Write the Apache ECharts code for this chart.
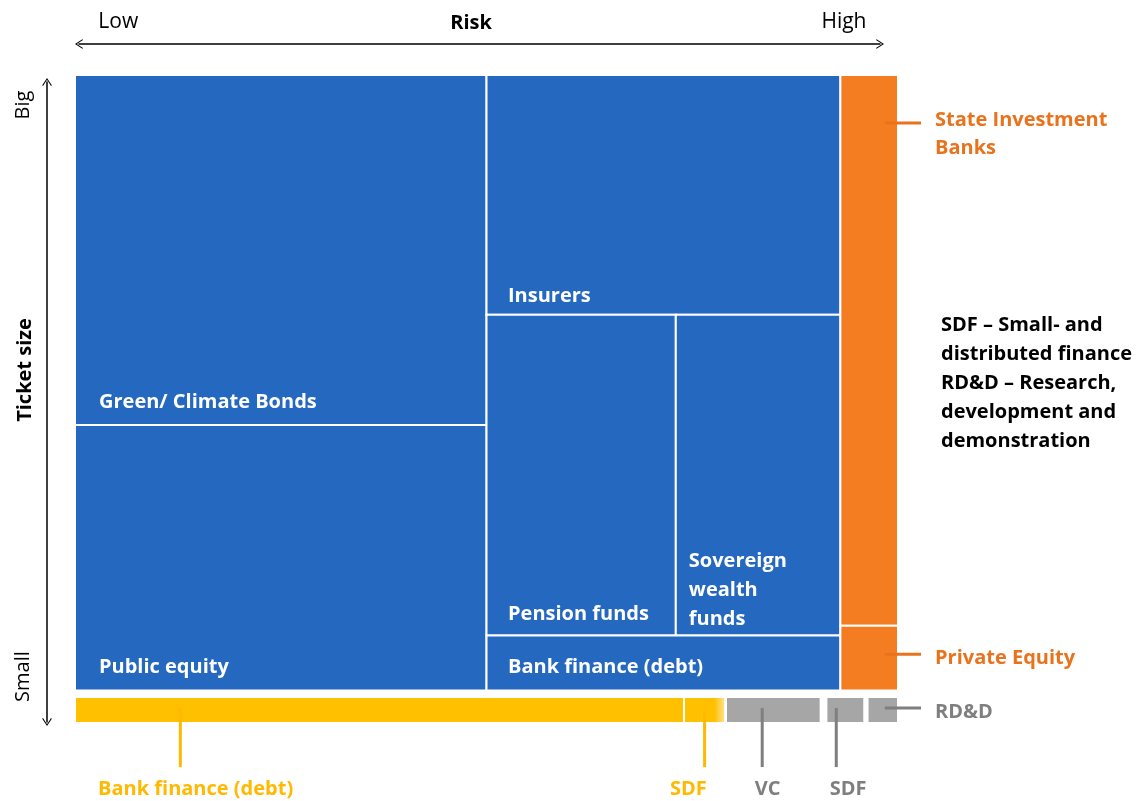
<!DOCTYPE html>
<html>
<head>
    <meta charset="utf-8">
    <title>Risk and ticket size</title>
    <script src="https://cdn.jsdelivr.net/npm/echarts@6/dist/echarts.min.js"></script>
    <style>
        html, body { margin: 0; background: #fff; }
        #chart1 { width: 1140px; height: 801px; }
    </style>
</head>
<body>
<div id="chart1"></div>
<script>
    // boxes, risk runs 0 (low) .. 100 (high), ticket size 0 (small) .. 100 (big)
    var boxNames = ['Green/ Climate Bonds', 'Public equity', 'Insurers', 'Pension funds', 'Sovereign\nwealth\nfunds',
        'Bank finance (debt)', 'State Investment Banks', 'Private Equity', 'Bank finance (debt)', 'SDF', 'VC', 'SDF', 'RD&D'];
    var boxGroups = ['inst', 'inst', 'inst', 'inst', 'inst', 'inst', 'state', 'state', 'bank', 'sdf', 'grey', 'grey', 'grey'];
    var riskFrom = [0, 0, 50, 50, 73, 50, 93, 93, 0, 74, 79.1, 91.3, 96.3];
    var riskTo = [50, 50, 93, 73, 93, 93, 100, 100, 74, 79, 90.6, 95.9, 100];
    var sizeFrom = [46, 5, 63, 13.5, 13.5, 5, 15, 5, 0, 0, 0, 0, 0];
    var sizeTo = [100, 46, 100, 63, 63, 13.5, 100, 15, 4, 4, 4, 4, 4];

    // call-outs for the boxes that carry their name outside
    var calloutNames = ['Bank finance (debt)', 'SDF', 'VC', 'SDF', 'State Investment\nBanks', 'Private Equity', 'RD&D'];
    var calloutGroups = ['bank', 'bank', 'grey', 'grey', 'state', 'state', 'grey'];
    var calloutFromX = [12.8, 76.5, 83.5, 92.5, 98.4, 98.4, 98.4];
    var calloutFromY = [2.3, 1.7, 2.3, 2.3, 92.6, 10.6, 2.3];
    var calloutToX = [12.8, 76.5, 83.5, 92.5, 102.8, 102.8, 102.8];
    var calloutToY = [-6.8, -6.8, -6.8, -6.8, 92.6, 10.6, 2.3];
    var calloutTextX = [2.8, 72.3, 82.6, 91.7, 104.5, 104.5, 104.5];
    var calloutTextY = [-10.2, -10.2, -10.2, -10.2, 90.9, 10.0, 1.7];

    // axis ticks
    var riskTicks = [4.9, 95.5];
    var riskTickLabels = ['Low', 'High'];
    var sizeTicks = [7.1, 96.4];
    var sizeTickLabels = ['Small', 'Big'];

    var noteText = 'SDF – Small- and\ndistributed finance\nRD&D – Research,\ndevelopment and\ndemonstration';

    var FONT = '"Open Sans", Lato, sans-serif';
    var boxFill = {
        inst: '#2568BF',
        state: '#F47D21',
        bank: '#FFC000',
        sdf: {
            type: 'linear', x: 0, y: 0, x2: 1, y2: 0,
            colorStops: [{offset: 0, color: '#FFC000'}, {offset: 0.72, color: '#FFC000'}, {offset: 1, color: '#FFE7A0'}]
        },
        grey: '#A6A6A6'
    };
    var textColor = {bank: '#FFB900', state: '#E9721C', grey: '#7F7F7F'};
    // label padding inside the blue boxes: [from left, from bottom]
    var innerPad = [[24, 8.5], [24, 9], [21.5, 4.3], [21.5, 7], [13, 2], [21.5, 9]];

    var boxData = boxNames.map(function (n, i) {
        return [riskFrom[i], riskTo[i], sizeFrom[i], sizeTo[i]];
    });
    var calloutData = calloutNames.map(function (n, i) {
        return [calloutFromX[i], calloutFromY[i], calloutToX[i], calloutToY[i], calloutTextX[i], calloutTextY[i]];
    });

    var chevron = 'path://M0,9.2 L6,0 L12,9.2 L11,10 L6,2.2 L1,10 Z';

    var myChart1 = echarts.init(document.getElementById('chart1'));
    myChart1.setOption({
        animation: false,
        title: {
            text: noteText,
            left: 941,
            top: 311,
            padding: 0,
            textStyle: {fontFamily: FONT, fontSize: 20, fontWeight: 'bold', color: '#000', lineHeight: 29}
        },
        grid: [
            {left: 75, top: 75, width: 823, height: 648, outerBoundsMode: 'none'},
            {left: 79, top: 82, width: 801, height: 640, outerBoundsMode: 'none'}
        ],
        xAxis: [
            {gridIndex: 0, type: 'value', min: 0, max: 100, show: false},
            {
                gridIndex: 1, type: 'value', min: 0, max: 100, position: 'top', offset: 38,
                axisLine: {show: true, onZero: false, symbol: [chevron, chevron], symbolSize: [14, 8], lineStyle: {color: '#000', width: 1.5}},
                axisTick: {show: false},
                splitLine: {show: false},
                axisLabel: {
                    customValues: riskTicks, margin: 11, fontSize: 21, color: '#000', fontFamily: FONT,
                    formatter: function (v) { return riskTickLabels[riskTicks.indexOf(v)] || ''; }
                },
                name: 'Risk', nameLocation: 'middle', nameGap: 11, nameMoveOverlap: false,
                nameTextStyle: {fontFamily: FONT, fontSize: 20, fontWeight: 'bold', color: '#000', padding: [0, 17, 0, 0]}
            }
        ],
        yAxis: [
            {gridIndex: 0, type: 'value', min: 0, max: 100, show: false},
            {
                gridIndex: 1, type: 'value', min: 0, max: 100, position: 'left', offset: 32,
                axisLine: {show: true, onZero: false, symbol: [chevron, chevron], symbolSize: [14, 8], lineStyle: {color: '#000', width: 1.5}},
                axisTick: {show: false},
                splitLine: {show: false},
                axisLabel: {
                    customValues: sizeTicks, margin: 14, rotate: 90, fontSize: 20, color: '#000', fontFamily: FONT,
                    formatter: function (v) { return sizeTickLabels[sizeTicks.indexOf(v)] || ''; }
                },
                name: 'Ticket size', nameLocation: 'middle', nameGap: 12, nameRotate: 90, nameMoveOverlap: false,
                nameTextStyle: {fontFamily: FONT, fontSize: 20, fontWeight: 'bold', color: '#000', padding: [0, 0, 0, 64]}
            }
        ],
        series: [
            {
                type: 'custom',
                xAxisIndex: 0, yAxisIndex: 0,
                data: boxData,
                renderItem: function (params, api) {
                    var i = params.dataIndex;
                    var tl = api.coord([api.value(0), api.value(3)]);
                    var br = api.coord([api.value(1), api.value(2)]);
                    var kids = [{
                        type: 'rect',
                        shape: {x: tl[0], y: tl[1], width: br[0] - tl[0], height: br[1] - tl[1]},
                        style: {fill: boxFill[boxGroups[i]], stroke: '#fff', lineWidth: 2}
                    }];
                    if (innerPad[i]) {
                        kids.push({
                            type: 'text',
                            x: tl[0] + innerPad[i][0],
                            y: br[1] - innerPad[i][1],
                            style: {
                                text: boxNames[i], fill: '#fff', font: 'bold 20px ' + FONT,
                                verticalAlign: 'bottom', align: 'left', lineHeight: 29
                            }
                        });
                    }
                    return {type: 'group', children: kids};
                }
            },
            {
                type: 'custom',
                xAxisIndex: 0, yAxisIndex: 0,
                clip: false,
                data: calloutData,
                renderItem: function (params, api) {
                    var i = params.dataIndex;
                    var a = api.coord([api.value(0), api.value(1)]);
                    var b = api.coord([api.value(2), api.value(3)]);
                    var t = api.coord([api.value(4), api.value(5)]);
                    var c = textColor[calloutGroups[i]];
                    return {
                        type: 'group',
                        children: [
                            {type: 'line', shape: {x1: a[0], y1: a[1], x2: b[0], y2: b[1]}, style: {stroke: c, lineWidth: 3}},
                            {
                                type: 'text', x: t[0], y: t[1],
                                style: {
                                    text: calloutNames[i], fill: c, font: 'bold 20px ' + FONT,
                                    align: 'left', verticalAlign: 'middle', lineHeight: 28
                                }
                            }
                        ]
                    };
                }
            }
        ]
    });
</script>
</body>
</html>
